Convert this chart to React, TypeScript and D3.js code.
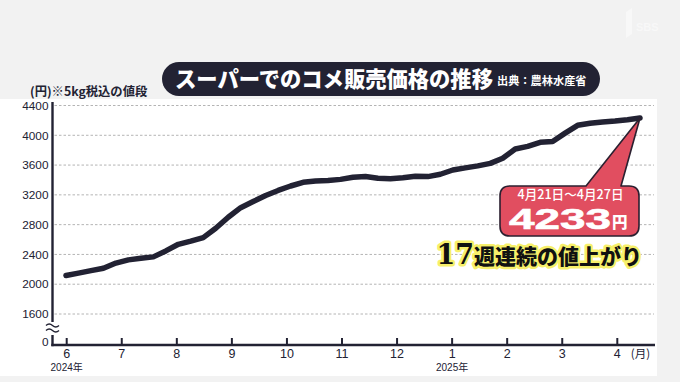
import React, { useEffect } from 'react';
import * as d3 from 'd3';

const W = 680;
const H = 382;

const titleText = 'スーパーでのコメ販売価格の推移';
const sourceText = '出典：農林水産省';
const unitText = '(円)※5kg税込の値段';
const monthLabels = ['6', '7', '8', '9', '10', '11', '12', '1', '2', '3', '4'];
const monthUnit = '(月)';
const yearMonths = ['6', '1'];
const yearLabels = ['2024年', '2025年'];
const yTicks = [1600, 2000, 2400, 2800, 3200, 3600, 4000, 4400];

// weekly average price (yen / 5kg), first week of June 2024 .. Apr 21-27 2025
const prices = [
  2117, 2149, 2183, 2215, 2284, 2327, 2348, 2367, 2447, 2536,
  2578, 2626, 2751, 2899, 3028, 3110, 3191, 3259, 3319, 3369,
  3386, 3392, 3408, 3436, 3447, 3422, 3417, 3429, 3451, 3445,
  3477, 3534, 3562, 3589, 3623, 3692, 3816, 3851, 3906, 3917,
  4029, 4134, 4161, 4177, 4191, 4209, 4233,
];

const calloutPeriod = '4月21日〜4月27日';
const calloutUnit = '円';
const noteNumber = '17';
const noteText = '週連続の値上がり';

const DARK = '#222233';
const SANS = "'Liberation Sans', Arial, 'Noto Sans CJK JP', sans-serif";
const JP = "'Noto Sans CJK JP', 'Noto Sans', sans-serif";

export default function App() {
  useEffect(() => {
    document.body.style.margin = '0';
  }, []);

  const axisX = 52.5;
  const axisY = 345;

  const xWeek = d3.scaleLinear().domain([0, prices.length - 1]).range([66, 640]);
  const xMonth = d3.scalePoint<string>().domain(monthLabels).range([66.7, 617.3]);
  const y = d3.scaleLinear().domain([1600, 4400]).range([314, 105.5]);

  const line = d3
    .line<number>()
    .x((_, i) => xWeek(i))
    .y((d) => y(d));

  const last = prices.length - 1;
  const tipX = xWeek(last);
  const tipY = y(prices[last]);

  // callout box geometry relative to tip
  const bx0 = tipX - 140;
  const bx1 = tipX - 1;
  const by0 = tipY + 68;
  const by1 = tipY + 118;
  const r = 10;
  const tb0 = tipX - 54;
  const tb1 = tipX - 19;
  const calloutPath = [
    `M${bx0 + r},${by0}`,
    `L${tb0},${by0}`,
    `L${tipX},${tipY}`,
    `L${tb1},${by0}`,
    `L${bx1 - r},${by0}`,
    `Q${bx1},${by0} ${bx1},${by0 + r}`,
    `L${bx1},${by1 - r}`,
    `Q${bx1},${by1} ${bx1 - r},${by1}`,
    `L${bx0 + r},${by1}`,
    `Q${bx0},${by1} ${bx0},${by1 - r}`,
    `L${bx0},${by0 + r}`,
    `Q${bx0},${by0} ${bx0 + r},${by0}`,
    'Z',
  ].join(' ');
  const cx = (bx0 + bx1) / 2;

  return (
    <svg
      width={W}
      height={H}
      viewBox={`0 0 ${W} ${H}`}
      style={{ position: 'absolute', left: 0, top: 0, display: 'block' }}
    >
      <rect x={0} y={0} width={W} height={H} fill="#f2f2f2" />
      <rect x={0} y={99} width={657} height={277} fill="#ffffff" />

      {/* logo (faint) */}
      <g opacity={0.7}>
        <path d="M626,12 L632,8 L632,34 L626,38 Z" fill="#fbfbfb" />
        <text x={636} y={31} fontFamily={SANS} fontWeight={700} fontSize={11} fill="#fbfbfb">
          SBS
        </text>
      </g>

      {/* title pill */}
      <rect x={162} y={62} width={438} height={34} rx={17} fill={DARK} />
      <text x={175} y={87} fontFamily={JP} fontWeight={900} fontSize={21.3} fill="#ffffff">
        {titleText}
      </text>
      <text x={497} y={85} fontFamily={JP} fontWeight={700} fontSize={11.2} fill="#ffffff">
        {sourceText}
      </text>

      {/* unit label */}
      <text x={30} y={96} fontFamily={JP} fontWeight={700} fontSize={12.3} fill={DARK}>
        {unitText}
      </text>

      {/* gridlines */}
      {yTicks.map((t) => (
        <line
          key={'g' + t}
          x1={axisX + 2}
          x2={654}
          y1={y(t)}
          y2={y(t)}
          stroke="#b4b4b4"
          strokeWidth={1}
          strokeDasharray="2.5,2"
        />
      ))}

      {/* y tick labels */}
      {yTicks.map((t) => (
        <text
          key={'yl' + t}
          x={48.5}
          y={y(t)}
          dy="0.36em"
          textAnchor="end"
          fontFamily={SANS}
          fontSize={11.8}
          fill={DARK}
        >
          {t}
        </text>
      ))}
      <text x={48.5} y={axisY - 3} dy="0.36em" textAnchor="end" fontFamily={SANS} fontSize={11.8} fill={DARK}>
        0
      </text>

      {/* axes */}
      <line x1={axisX} x2={axisX} y1={102} y2={322} stroke={DARK} strokeWidth={2.4} />
      <line x1={axisX} x2={axisX} y1={335} y2={axisY + 1.2} stroke={DARK} strokeWidth={2.4} />
      <path d="M46,325.5 q3.2,-3 6.5,0 t6.5,0" fill="none" stroke={DARK} strokeWidth={1.4} />
      <path d="M46,330.5 q3.2,-3 6.5,0 t6.5,0" fill="none" stroke={DARK} strokeWidth={1.4} />
      <line x1={axisX - 1.2} x2={655} y1={axisY} y2={axisY} stroke={DARK} strokeWidth={2.4} />

      {/* month ticks and labels */}
      {monthLabels.map((m) => (
        <g key={'m' + m}>
          <line x1={xMonth(m)} x2={xMonth(m)} y1={axisY} y2={axisY - 7} stroke={DARK} strokeWidth={2} />
          <text
            x={xMonth(m)}
            y={357.5}
            textAnchor="middle"
            fontFamily={SANS}
            fontSize={12.5}
            fill={DARK}
          >
            {m}
          </text>
        </g>
      ))}
      <text x={640.5} y={357.5} textAnchor="middle" fontFamily={JP} fontSize={11.5} fill={DARK}>
        {monthUnit}
      </text>
      {yearMonths.map((m, i) => (
        <text
          key={'yr' + m}
          x={xMonth(m)}
          y={370.5}
          textAnchor="middle"
          fontFamily={SANS}
          fontSize={10}
          fill={DARK}
        >
          {yearLabels[i]}
        </text>
      ))}

      {/* price line */}
      <path
        d={line(prices) || ''}
        fill="none"
        stroke={DARK}
        strokeWidth={5.5}
        strokeLinejoin="round"
        strokeLinecap="round"
      />

      {/* callout */}
      <path d={calloutPath} fill="#e14e60" stroke="#2b2030" strokeWidth={1.6} strokeLinejoin="round" />
      <text x={cx + 1} y={by0 + 13} textAnchor="middle" fontFamily={JP} fontWeight={500} fontSize={12.6} fill="#ffffff">
        {calloutPeriod}
      </text>
      <text
        transform={`translate(${bx0 + 9},${by0 + 43}) scale(1.53,1)`}
        fill="#ffffff"
        stroke="#ffffff"
        strokeWidth={0.6}
        fontFamily={SANS}
        fontWeight={700}
        fontSize={30}
      >
        {prices[last]}
      </text>
      <text x={bx0 + 112} y={by0 + 42} fill="#ffffff" fontFamily={JP} fontWeight={900} fontSize={15.5}>
        {calloutUnit}
      </text>

      {/* note */}
      <text
        x={tipX + 2}
        y={tipY + 146}
        textAnchor="end"
        fill="#111111"
        stroke="#f7f06a"
        strokeWidth={5}
        strokeLinejoin="round"
        paintOrder="stroke"
        fontWeight={900}
      >
        <tspan fontFamily="'DejaVu Serif', 'Liberation Serif', serif" fontSize={27}>
          {noteNumber}
        </tspan>
        <tspan fontFamily={JP} fontSize={21}>
          {noteText}
        </tspan>
      </text>
    </svg>
  );
}
